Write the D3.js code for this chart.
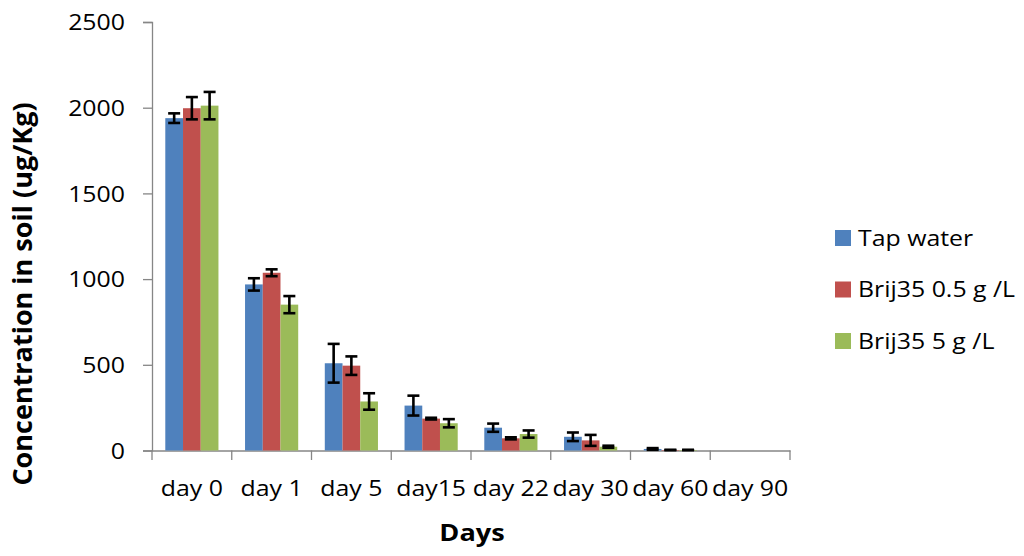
<!DOCTYPE html>
<html><head><meta charset="utf-8">
<script src="https://cdn.jsdelivr.net/npm/d3@7"></script>
<style>body{margin:0;background:#fff}svg{display:block}text{font-family:"Open Sans",sans-serif}</style>
</head><body>
<svg id="c" width="1024" height="556"></svg>
<script>
const categories = ["day 0","day 1","day 5","day15","day 22","day 30","day 60","day 90"];
const seriesNames = ["Tap water","Brij35 0.5 g /L","Brij35 5 g /L"];
const tapWater = [1939, 969, 509, 262, 133, 80, 9, 0];
const brij05 = [1997, 1037, 495, 186, 71, 59, 3, 0];
const brij5 = [2012, 851, 286, 159, 96, 22, 3, 0];
const tapErr = [28, 36, 113, 58, 24, 25, 5, 0];
const brij05Err = [65, 20, 54, 5, 6, 32, 0, 0];
const brij5Err = [80, 50, 48, 24, 21, 6, 0, 0];
const yTicks = [0, 500, 1000, 1500, 2000, 2500];
const colors = ["#4F81BD", "#C0504D", "#9BBB59"];

const values = [tapWater, brij05, brij5];
const errs = [tapErr, brij05Err, brij5Err];
const SX = 1.13;

const svg = d3.select("#c");
const y = d3.scaleLinear().domain([0, 2500]).range([450.5, 22]);
const x = d3.scaleBand().domain(categories).range([152, 790]).paddingInner(0).paddingOuter(0);
const bw = x.bandwidth() / 4.5;
const xs = d3.scaleBand().domain([0,1,2]).range([bw*0.75, bw*3.75]);

// y axis
const yAxis = svg.append("g").attr("transform", "translate(152,0)")
  .call(d3.axisLeft(y).tickValues(yTicks).tickSize(9).tickFormat(d3.format("d")));
yAxis.select(".domain").attr("stroke", "#868686").attr("stroke-width", 1.3);
yAxis.selectAll(".tick line").attr("stroke", "#868686").attr("stroke-width", 1.3);
yAxis.selectAll(".tick text").attr("font-size", 22).attr("fill", "#000").attr("font-family", "Open Sans")
  .attr("x", 0).attr("dy", "0.35em").attr("transform", `translate(-27,0) scale(${SX},1)`);

// x axis
const xAxis = svg.append("g").attr("transform", "translate(0,450.5)")
  .call(d3.axisBottom(x).tickSize(0).tickPadding(30));
xAxis.select(".domain").attr("stroke", "#868686").attr("stroke-width", 1.3);
xAxis.selectAll(".tick text").attr("font-size", 22).attr("fill", "#000").attr("font-family", "Open Sans")
  .attr("transform", `scale(${SX},1)`);
// category boundary ticks
const bounds = categories.map(c => x(c)).concat([x(categories[categories.length-1]) + x.bandwidth()]);
svg.append("g").selectAll("line").data(bounds).join("line")
  .attr("x1", d => d).attr("x2", d => d).attr("y1", 450.5).attr("y2", 460)
  .attr("stroke", "#868686").attr("stroke-width", 1.3);

// bars
const g = svg.append("g");
values.forEach((vals, s) => {
  g.append("g").selectAll("rect").data(categories).join("rect")
    .attr("x", (c) => x(c) + xs(s))
    .attr("y", (c, i) => y(vals[i]))
    .attr("width", xs.bandwidth())
    .attr("height", (c, i) => y(0) - y(vals[i]))
    .attr("fill", colors[s]);
});
// error bars
values.forEach((vals, s) => {
  const eg = g.append("g").attr("stroke", "#000").attr("stroke-width", 2.6);
  categories.forEach((c, i) => {
    if (vals[i] === 0) return;
    const cx = x(c) + xs(s) + xs.bandwidth()/2;
    const lo = vals[i] - errs[s][i], hi = vals[i] + errs[s][i];
    eg.append("line").attr("x1", cx).attr("x2", cx).attr("y1", y(lo)).attr("y2", y(hi));
    eg.append("line").attr("x1", cx-6).attr("x2", cx+6).attr("y1", y(lo)).attr("y2", y(lo));
    eg.append("line").attr("x1", cx-6).attr("x2", cx+6).attr("y1", y(hi)).attr("y2", y(hi));
  });
});

// axis titles
svg.append("text").attr("transform", `translate(472,541) scale(${SX},1)`).attr("text-anchor", "middle")
  .attr("font-size", 24).attr("font-weight", "bold").attr("fill", "#000").text("Days");
svg.append("text").attr("transform", "translate(32,294) rotate(-90)").attr("text-anchor", "middle")
  .attr("font-size", 27).attr("font-weight", "bold").attr("fill", "#000").text("Concentration in soil (ug/Kg)");

// legend
const lg = svg.append("g");
seriesNames.forEach((n, i) => {
  const cy = 238 + i * 51.5;
  lg.append("rect").attr("x", 835).attr("y", cy - 8).attr("width", 16).attr("height", 16).attr("fill", colors[i]);
  lg.append("text").attr("transform", `translate(858,${cy}) scale(${SX},1)`).attr("dy", "0.35em")
    .attr("font-size", 22).attr("fill", "#000").text(n);
});
</script>
</body></html>
